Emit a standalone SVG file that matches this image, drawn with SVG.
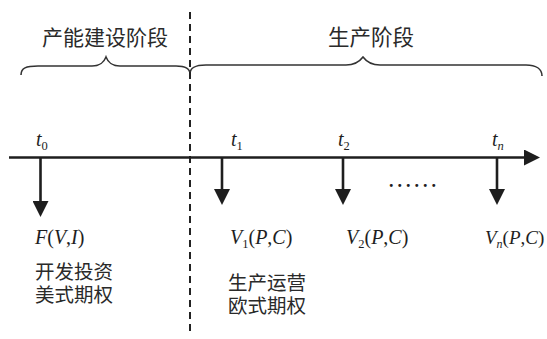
<svg xmlns="http://www.w3.org/2000/svg" width="547" height="339" viewBox="0 0 547 339">
<style>
.cjk{font-family:"Noto Sans CJK SC","Noto Sans",sans-serif;fill:#2a2a2a;}
.m{font-family:"Liberation Serif","Times New Roman",serif;fill:#1e1e1e;}
.i{font-style:italic;}
.ax{stroke:#1e1e1e;stroke-width:2.6;fill:none;}
.br{stroke:#333;stroke-width:1.6;fill:none;}
</style>
<defs>
<marker id="ah" viewBox="0 0 16 16" refX="1" refY="8" markerWidth="16" markerHeight="16" markerUnits="userSpaceOnUse" orient="auto">
<path d="M0,0 L16,8 L0,16 z" fill="#1e1e1e"/>
</marker>
</defs>
<rect width="547" height="339" fill="#fff"/>
<g id="phases">
<path id="brace-build" class="br" d="M21,75 C21,68 26,66 38,66 L92,66 C101,66 104,62 106,57 C108,62 111,66 120,66 L176,66 C186,66 190,69 190,74"/>
<path id="brace-prod" class="br" d="M190,74 C190,68 194,65 206,65 L346,65 C356,65 360,61 363,57 C366,61 370,65 380,65 L526,65 C536,65 542,69 542,76"/>
<text class="cjk" x="42" y="45" font-size="21">产能建设阶段</text>
<text class="cjk" x="328" y="45" font-size="21.5">生产阶段</text>
</g>
<line id="divider" x1="190" y1="12" x2="190" y2="336" stroke="#222" stroke-width="2" stroke-dasharray="7 5"/>
<g id="connectors">
<line class="ax" x1="9" y1="157.5" x2="525" y2="157.5" marker-end="url(#ah)"/>
<line class="ax" x1="40.5" y1="157" x2="40.5" y2="202" marker-end="url(#ah)"/>
<line class="ax" x1="222" y1="157" x2="222" y2="190" marker-end="url(#ah)"/>
<line class="ax" x1="343" y1="157" x2="343" y2="190" marker-end="url(#ah)"/>
<line class="ax" x1="497" y1="157" x2="497" y2="190" marker-end="url(#ah)"/>
</g>
<g id="t0">
<text class="m" x="36" y="146" font-size="20"><tspan class="i">t</tspan><tspan font-size="12.5" dy="4">0</tspan></text>
<text class="m" x="35" y="244" font-size="20"><tspan class="i">F</tspan>(<tspan class="i">V</tspan>,<tspan class="i">I</tspan>)</text>
<text class="cjk" x="35" y="279" font-size="19.5"><tspan x="35">开发投资</tspan><tspan x="35" dy="23">美式期权</tspan></text>
</g>
<g id="t1">
<text class="m" x="231" y="146" font-size="20"><tspan class="i">t</tspan><tspan font-size="12.5" dy="4">1</tspan></text>
<text class="m" x="230" y="244" font-size="20"><tspan class="i">V</tspan><tspan font-size="12.5" dy="4">1</tspan><tspan dy="-4">(</tspan><tspan class="i">P</tspan>,<tspan class="i">C</tspan>)</text>
<text class="cjk" x="228" y="290" font-size="19.5"><tspan x="228">生产运营</tspan><tspan x="228" dy="23">欧式期权</tspan></text>
</g>
<g id="t2">
<text class="m" x="338" y="146" font-size="20"><tspan class="i">t</tspan><tspan font-size="12.5" dy="4">2</tspan></text>
<text class="m" x="346" y="244" font-size="20"><tspan class="i">V</tspan><tspan font-size="12.5" dy="4">2</tspan><tspan dy="-4">(</tspan><tspan class="i">P</tspan>,<tspan class="i">C</tspan>)</text>
</g>
<text id="dots" class="m" x="389" y="187" font-size="18" letter-spacing="4" font-weight="bold">......</text>
<g id="tn">
<text class="m" x="492" y="146" font-size="20"><tspan class="i">t</tspan><tspan class="i" font-size="12.5" dy="4">n</tspan></text>
<text class="m" x="485" y="244" font-size="19"><tspan class="i">V</tspan><tspan class="i" font-size="12" dy="4">n</tspan><tspan dy="-4">(</tspan><tspan class="i">P</tspan>,<tspan class="i">C</tspan>)</text>
</g>
</svg>
